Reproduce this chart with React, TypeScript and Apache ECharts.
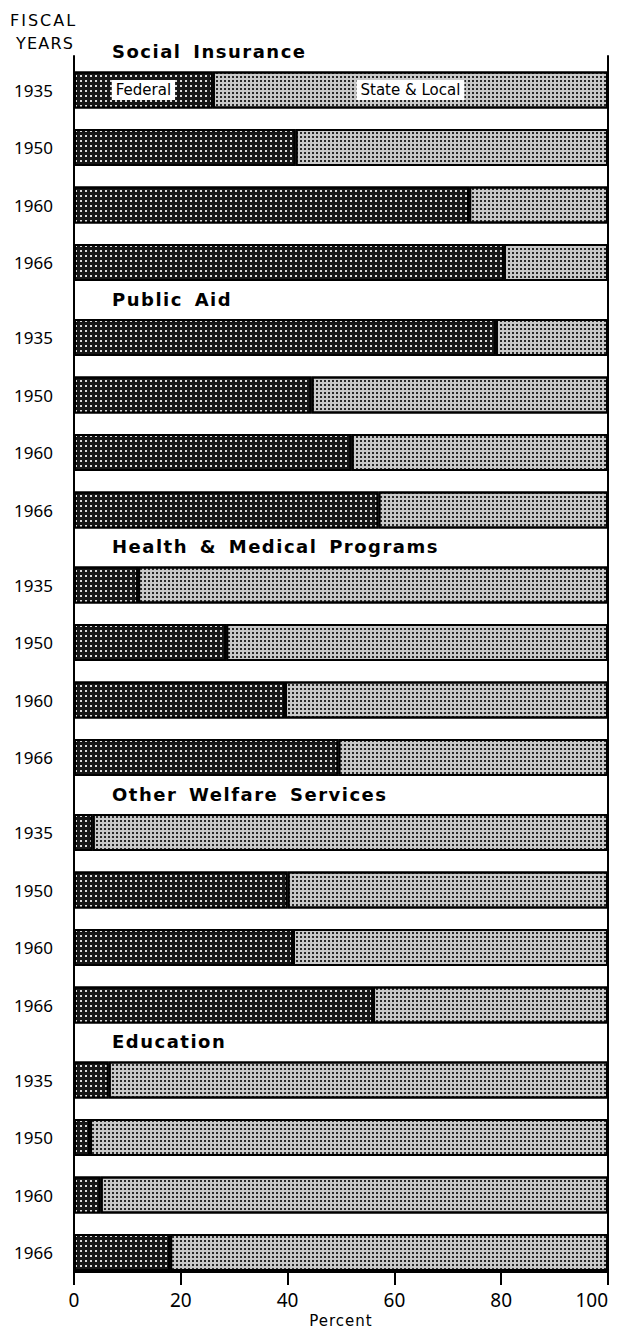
import React, { useEffect, useRef } from "react";
import * as echarts from "echarts";

const years = ["1935", "1950", "1960", "1966"];
const programs = [
  "Social Insurance",
  "Public Aid",
  "Health & Medical Programs",
  "Other Welfare Services",
  "Education",
];
const federalSocialInsurance = [26, 41.5, 74, 80.5];
const stateSocialInsurance = [74, 58.5, 26, 19.5];
const federalPublicAid = [79, 44.5, 52, 57];
const statePublicAid = [21, 55.5, 48, 43];
const federalHealth = [12, 28.5, 39.5, 49.5];
const stateHealth = [88, 71.5, 60.5, 50.5];
const federalWelfare = [3.5, 40, 41, 56];
const stateWelfare = [96.5, 60, 59, 44];
const federalEducation = [6.5, 3, 5, 18];
const stateEducation = [93.5, 97, 95, 82];
const percentTicks = [0, 20, 40, 60, 80, 100];

const federalGroups = [federalSocialInsurance, federalPublicAid, federalHealth, federalWelfare, federalEducation];
const stateGroups = [stateSocialInsurance, statePublicAid, stateHealth, stateWelfare, stateEducation];

const W = 618;
const H = 1329;
const LEFT = 74;
const RIGHT = 10;
const FIRST_CENTER = 90;
const PITCH = 57.5;
const STRIDE = 247.5;
const BAR_W = 37;

export default function App() {
  const ref = useRef<HTMLDivElement>(null);
  useEffect(() => {
    if (!ref.current) return;
    const el = ref.current;
    const chart = echarts.init(el, undefined, { renderer: "svg" });
    const grids: any[] = [
      { left: LEFT, right: RIGHT, top: 56, bottom: H - 1272, show: false, outerBoundsMode: "none" },
    ];
    const xAxes: any[] = [
      {
        gridIndex: 0,
        type: "value",
        min: 0,
        max: 100,
        interval: 20,
        axisLine: { show: true, lineStyle: { color: "#000", width: 2 } },
        axisTick: { show: true, length: 13, lineStyle: { color: "#000", width: 2 } },
        axisLabel: {
          color: "#000",
          fontSize: 19,
          fontFamily: "Noto Sans",
          margin: 18,
          alignMaxLabel: "right",
          formatter: (v: number) => (percentTicks.includes(v) ? String(v) : ""),
        },
        splitLine: { show: false },
        name: "Percent",
        nameLocation: "middle",
        nameGap: 33,
        nameTextStyle: { color: "#000", fontSize: 15, fontFamily: "DejaVu Sans" },
      },
    ];
    const frameY = (position: string) => ({
      gridIndex: 0,
      type: "value",
      position,
      min: 0,
      max: 1,
      axisLine: { show: true, lineStyle: { color: "#000", width: 2 } },
      axisTick: { show: false },
      axisLabel: { show: false },
      splitLine: { show: false },
    });
    const yAxes: any[] = [frameY("left"), frameY("right")];
    const series: any[] = [];
    const darkDecal = {
      symbol: "rect",
      symbolSize: 1,
      dashArrayX: [1.2, 2.8],
      dashArrayY: [1.2, 2.8],
      color: "rgba(255,255,255,0.85)",
    };
    const lightDecal = {
      symbol: "rect",
      symbolSize: 1,
      dashArrayX: [1.2, 1.8],
      dashArrayY: [1.2, 1.8],
      color: "rgba(0,0,0,0.8)",
    };
    const boxLabel = {
      show: true,
      position: "inside",
      color: "#000",
      fontSize: 15,
      fontFamily: "DejaVu Sans",
      backgroundColor: "#fff",
      padding: [3, 4, 2, 4],
    };
    programs.forEach((p, g) => {
      const gi = g + 1;
      const top = FIRST_CENTER - PITCH / 2 + g * STRIDE;
      grids.push({ left: LEFT, right: RIGHT, top, height: PITCH * 4, outerBoundsMode: "none" });
      xAxes.push({ gridIndex: gi, type: "value", min: 0, max: 100, show: false });
      yAxes.push({
        gridIndex: gi,
        type: "category",
        data: years,
        inverse: true,
        axisLine: { show: false },
        axisTick: { show: false },
        axisLabel: { color: "#000", fontSize: 17, fontFamily: "Noto Sans", margin: 21 },
      });
      const yIndex = yAxes.length - 1;
      series.push({
        type: "bar",
        name: "Federal",
        xAxisIndex: gi,
        yAxisIndex: yIndex,
        stack: "s" + g,
        barWidth: BAR_W,
        itemStyle: { color: "#161616", borderColor: "#000", borderWidth: 2, decal: darkDecal },
        data: federalGroups[g].map((v, i) =>
          g === 0 && i === 0 ? { value: v, label: { ...boxLabel, formatter: "Federal" } } : v
        ),
      });
      series.push({
        type: "bar",
        name: "State & Local",
        xAxisIndex: gi,
        yAxisIndex: yIndex,
        stack: "s" + g,
        barWidth: BAR_W,
        itemStyle: { color: "#c8c8c8", borderColor: "#000", borderWidth: 2, decal: lightDecal },
        data: stateGroups[g].map((v, i) =>
          g === 0 && i === 0 ? { value: v, label: { ...boxLabel, formatter: "State & Local" } } : v
        ),
      });
    });
    const graphic: any[] = programs.map((p, g) => ({
      type: "text",
      x: LEFT + 38,
      y: FIRST_CENTER - 38.5 + g * STRIDE,
      style: {
        text: p,
        fill: "#000",
        font: "bold 18px 'DejaVu Sans'",
        verticalAlign: "middle",
        align: "left",
      },
    }));
    graphic.push(
      {
        type: "text",
        x: 10,
        y: 20,
        style: { text: "FISCAL", fill: "#000", font: "16px 'DejaVu Sans'", verticalAlign: "middle", align: "left" },
      },
      {
        type: "text",
        x: 16,
        y: 43,
        style: { text: "YEARS", fill: "#000", font: "16px 'DejaVu Sans'", verticalAlign: "middle", align: "left" },
      }
    );
    const spacing = () => {
      el.querySelectorAll("text").forEach((t) => {
        const s = (t.textContent || "").trim();
        if (programs.includes(s)) {
          t.setAttribute("letter-spacing", "1.5");
          t.setAttribute("word-spacing", "4");
        } else if (s === "FISCAL") {
          t.setAttribute("letter-spacing", "2");
        } else if (s === "YEARS") {
          t.setAttribute("letter-spacing", "1.2");
        } else if (s === "Percent") {
          t.setAttribute("letter-spacing", "1");
        }
      });
    };
    chart.on("finished", spacing);
    chart.setOption({
      animation: false,
      backgroundColor: "#fff",
      grid: grids,
      xAxis: xAxes,
      yAxis: yAxes,
      series,
      graphic,
    });
    spacing();
    return () => chart.dispose();
  }, []);
  return (
    <div
      ref={ref}
      style={{ position: "absolute", left: 0, top: 0, width: W, height: H }}
    />
  );
}
